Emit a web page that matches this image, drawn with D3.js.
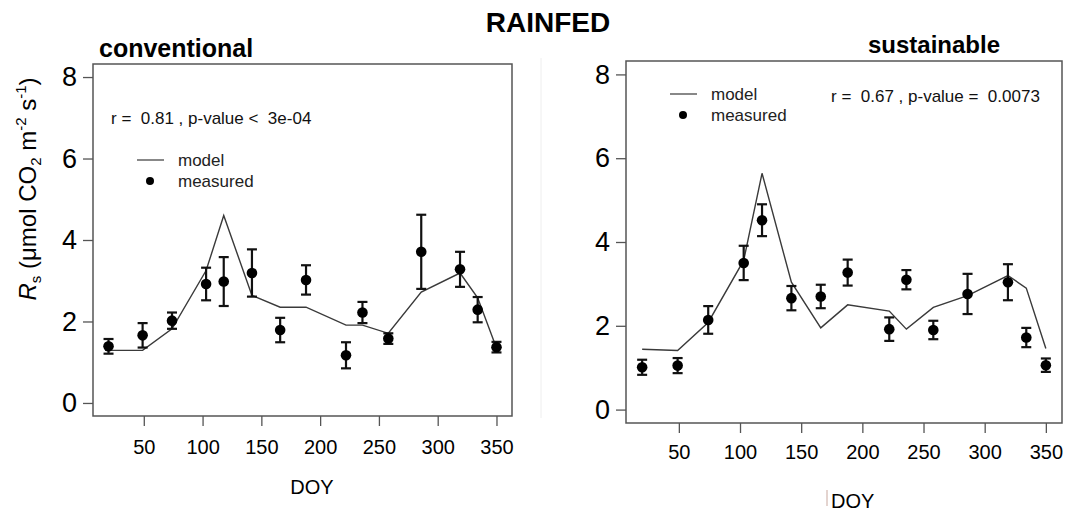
<!DOCTYPE html>
<html>
<head>
<meta charset="utf-8">
<script src="https://cdn.jsdelivr.net/npm/d3@7"></script>
<style>
  body { margin: 0; background: #fff; }
  svg { display: block; font-family: "Liberation Sans", Arial, sans-serif; }
</style>
</head>
<body>
<svg id="chart" width="1087" height="513"></svg>
<script>
// day of year of the campaigns
let doy = [20, 49, 74, 103, 118, 142, 166, 188, 222, 236, 258, 286, 319, 334, 350];
let doyModelConv = [17, 49, 74, 103, 118, 142, 166, 188, 222, 236, 258, 286, 319, 334, 350];

// conventional
let measConv = [1.39, 1.66, 2.02, 2.92, 2.98, 3.19, 1.79, 3.02, 1.17, 2.22, 1.58, 3.71, 3.28, 2.29, 1.37];
let errConv  = [0.18, 0.30, 0.20, 0.40, 0.60, 0.58, 0.30, 0.36, 0.32, 0.26, 0.13, 0.91, 0.43, 0.31, 0.13];
let modelConv = [1.29, 1.29, 1.82, 3.25, 4.60, 2.64, 2.35, 2.35, 1.91, 1.91, 1.71, 2.72, 3.19, 2.58, 1.35];

// sustainable
let measSust = [1.01, 1.05, 2.14, 3.50, 4.52, 2.66, 2.70, 3.27, 1.92, 3.10, 1.90, 2.76, 3.04, 1.72, 1.06];
let errSust  = [0.18, 0.18, 0.33, 0.41, 0.38, 0.29, 0.28, 0.31, 0.28, 0.23, 0.22, 0.48, 0.43, 0.23, 0.16];
let modelSust = [1.44, 1.41, 2.08, 3.56, 5.64, 3.04, 1.95, 2.50, 2.35, 1.92, 2.44, 2.72, 3.20, 2.90, 1.46];

let xTicks = [50, 100, 150, 200, 250, 300, 350];
let yTicks = [0, 2, 4, 6, 8];

let svg = d3.select("#chart");

svg.append("text")
   .attr("x", 548).attr("y", 32)
   .attr("text-anchor", "middle")
   .attr("font-size", 28).attr("font-weight", "bold")
   .text("RAINFED");

let drawPanel = (p) => {
  let x = d3.scaleLinear().domain([6.8, 363.2]).range([p.left, p.right]);
  let y = d3.scaleLinear().domain([-0.32, 8.32]).range([p.bottom, p.top]);
  let g = svg.append("g");

  g.append("rect")
   .attr("x", p.left).attr("y", p.top)
   .attr("width", p.right - p.left).attr("height", p.bottom - p.top)
   .attr("fill", "none").attr("stroke", "#555").attr("stroke-width", 1.5);

  // y axis
  let yAxis = g.append("g")
     .attr("transform", "translate(" + p.left + ",0)")
     .call(d3.axisLeft(y).tickValues(yTicks).tickSize(10).tickPadding(6));
  yAxis.select(".domain").remove();
  yAxis.selectAll("line").attr("stroke", "#555").attr("stroke-width", 1.3);
  yAxis.selectAll("text").attr("font-size", 27).attr("fill", "#000")
       .attr("font-family", "Liberation Sans, Arial, sans-serif");

  // x axis
  let xAxis = g.append("g")
     .attr("transform", "translate(0," + p.bottom + ")")
     .call(d3.axisBottom(x).tickValues(xTicks).tickSize(10).tickPadding(p.xPad));
  xAxis.select(".domain").remove();
  xAxis.selectAll("line").attr("stroke", "#555").attr("stroke-width", 1.3);
  xAxis.selectAll("text").attr("font-size", 20).attr("fill", "#000")
       .attr("font-family", "Liberation Sans, Arial, sans-serif");

  g.append("text")
   .attr("x", p.doyX).attr("y", p.doyY)
   .attr("text-anchor", p.doyAnchor)
   .attr("font-size", 20)
   .text("DOY");

  g.append("text")
   .attr("x", p.titleX).attr("y", p.titleY)
   .attr("font-size", p.titleSize).attr("font-weight", "bold")
   .text(p.title);

  // model line
  let line = d3.line().x(d => x(d[0])).y(d => y(d[1]));
  g.append("path")
   .datum(p.modelX.map((d, i) => [d, p.model[i]]))
   .attr("d", line)
   .attr("fill", "none").attr("stroke", "#3a3a3a").attr("stroke-width", 1.4);

  // measured with error bars
  let pts = doy.map((d, i) => ({ d: d, v: p.meas[i], e: p.err[i] }));
  let eb = g.append("g").attr("stroke", "#111").attr("stroke-width", 2.2);
  eb.selectAll(".bar").data(pts).enter().append("line")
    .attr("x1", d => x(d.d)).attr("x2", d => x(d.d))
    .attr("y1", d => y(d.v - d.e)).attr("y2", d => y(d.v + d.e));
  eb.selectAll(".capTop").data(pts).enter().append("line")
    .attr("x1", d => x(d.d) - 5).attr("x2", d => x(d.d) + 5)
    .attr("y1", d => y(d.v + d.e)).attr("y2", d => y(d.v + d.e));
  eb.selectAll(".capBot").data(pts).enter().append("line")
    .attr("x1", d => x(d.d) - 5).attr("x2", d => x(d.d) + 5)
    .attr("y1", d => y(d.v - d.e)).attr("y2", d => y(d.v - d.e));
  g.selectAll(".pt").data(pts).enter().append("circle")
   .attr("cx", d => x(d.d)).attr("cy", d => y(d.v))
   .attr("r", 5.3).attr("fill", "#000");

  // legend
  g.append("line")
   .attr("x1", p.legX).attr("x2", p.legX + 27)
   .attr("y1", p.legY).attr("y2", p.legY)
   .attr("stroke", "#555").attr("stroke-width", 1.4);
  g.append("circle")
   .attr("cx", p.legX + 13).attr("cy", p.legY + 21).attr("r", 4).attr("fill", "#000");
  g.append("text").attr("x", p.legX + 41).attr("y", p.legY + 6)
   .attr("font-size", 17).attr("fill", "#222").text("model");
  g.append("text").attr("x", p.legX + 41).attr("y", p.legY + 27)
   .attr("font-size", 17).attr("fill", "#222").text("measured");

  g.append("text")
   .attr("x", p.statX).attr("y", p.statY)
   .attr("font-size", 17).attr("fill", "#111")
   .attr("xml:space", "preserve")
   .style("white-space", "pre")
   .text(p.stat);
};

drawPanel({
  left: 93, right: 512, top: 64, bottom: 416, xPad: 14,
  title: "conventional", titleX: 99, titleY: 57, titleSize: 25,
  doyX: 312, doyY: 494, doyAnchor: "middle",
  meas: measConv, err: errConv, model: modelConv, modelX: doyModelConv,
  legX: 137, legY: 160,
  statX: 111, statY: 124, stat: "r =  0.81 , p-value <  3e-04"
});

drawPanel({
  left: 626, right: 1062, top: 61, bottom: 423, xPad: 12,
  title: "sustainable", titleX: 868, titleY: 53, titleSize: 24,
  doyX: 831, doyY: 508, doyAnchor: "start",
  meas: measSust, err: errSust, model: modelSust, modelX: doy,
  legX: 670, legY: 94,
  statX: 831, statY: 102, stat: "r =  0.67 , p-value =  0.0073"
});

// y axis title (shared, left)
let yl = svg.append("text")
  .attr("transform", "translate(36,189) rotate(-90)")
  .attr("text-anchor", "middle")
  .attr("font-size", 24);
yl.append("tspan").attr("font-style", "italic").text("R");
yl.append("tspan").attr("font-size", 15).attr("dy", 5).text("s");
yl.append("tspan").attr("dy", -5).text(" (\u03bcmol CO");
yl.append("tspan").attr("font-size", 15).attr("dy", 5).text("2");
yl.append("tspan").attr("dy", -5).text(" m");
yl.append("tspan").attr("font-size", 15).attr("dy", -10).text("-2");
yl.append("tspan").attr("dy", 10).text(" s");
yl.append("tspan").attr("font-size", 15).attr("dy", -10).text("-1");
yl.append("tspan").attr("dy", 10).text(")");

// composition artefacts of the original figure
svg.append("line").attr("x1", 541).attr("x2", 541).attr("y1", 58).attr("y2", 418)
   .attr("stroke", "#eeeeee").attr("stroke-width", 1);
svg.append("line").attr("x1", 827).attr("x2", 827).attr("y1", 490).attr("y2", 506)
   .attr("stroke", "#c9a9a0").attr("stroke-width", 1);
</script>
</body>
</html>
